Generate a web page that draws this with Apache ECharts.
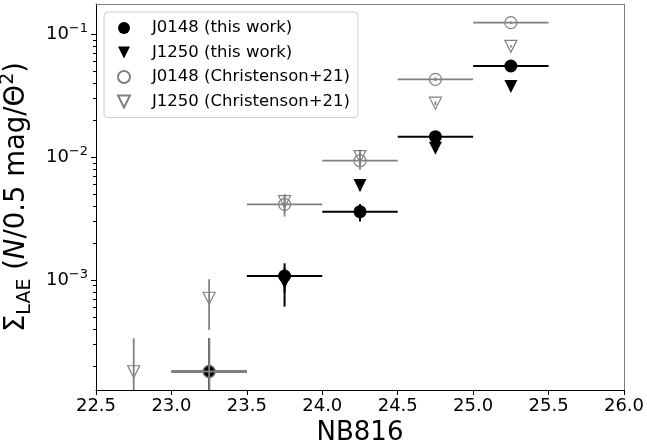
<!DOCTYPE html>
<html>
<head>
<meta charset="utf-8">
<script src="https://cdn.jsdelivr.net/npm/echarts@6/dist/echarts.min.js"></script>
<style>html,body{margin:0;padding:0;background:#fff}#c{width:647px;height:445px}</style>
</head>
<body>
<div id="c"></div>
<script>
// ---- data ----
const xTickValues = [22.5, 23.0, 23.5, 24.0, 24.5, 25.0, 25.5, 26.0];
const yMajorTicks = [1e-3, 1e-2, 1e-1];
const yMinorTicks = [2e-4,3e-4,4e-4,5e-4,6e-4,7e-4,8e-4,9e-4,
                     2e-3,3e-3,4e-3,5e-3,6e-3,7e-3,8e-3,9e-3,
                     2e-2,3e-2,4e-2,5e-2,6e-2,7e-2,8e-2,9e-2];
const seriesNames = ['J0148 (this work)', 'J1250 (this work)', 'J0148 (Christenson+21)', 'J1250 (Christenson+21)'];
const binHalfWidth = 0.25;

// J0148 (this work)
const j0148_x   = [23.25, 23.75, 24.25, 24.75, 25.25];
const j0148_y   = [1.80e-4, 1.078e-3, 3.60e-3, 1.467e-2, 5.52e-2];
const j0148_ylo = [0, 7.9e-4, 2.99e-3, 1.39e-2, 5.35e-2];
const j0148_yhi = [3.35e-4, 1.367e-3, 4.16e-3, 1.55e-2, 5.70e-2];

// J1250 (this work)
const j1250_x   = [23.75, 24.25, 24.75, 25.25];
const j1250_y   = [9.6e-4, 5.88e-3, 1.18e-2, 3.75e-2];
const j1250_ylo = [6.07e-4, 5.3e-3, 1.12e-2, 3.62e-2];
const j1250_yhi = [1.25e-3, 6.5e-3, 1.24e-2, 3.88e-2];

// J0148 (Christenson+21)
const c0148_x   = [23.25, 23.75, 24.25, 24.75, 25.25];
const c0148_y   = [1.80e-4, 4.13e-3, 9.35e-3, 4.30e-2, 1.243e-1];
const c0148_ylo = [0, 3.28e-3, 7.91e-3, 4.15e-2, 1.215e-1];
const c0148_yhi = [3.35e-4, 4.77e-3, 1.143e-2, 4.45e-2, 1.27e-1];

// J1250 (Christenson+21)
const c1250_x   = [22.75, 23.25, 23.75, 24.25, 24.75, 25.25];
const c1250_y   = [1.79e-4, 7.10e-4, 4.34e-3, 1.009e-2, 2.75e-2, 7.98e-2];
const c1250_ylo = [0, 3.92e-4, 3.6e-3, 8.6e-3, 2.65e-2, 7.8e-2];
const c1250_yhi = [3.35e-4, 1.014e-3, 5.0e-3, 1.15e-2, 2.85e-2, 8.15e-2];

// ---- build ----
const BLACK = '#000000', GRAY = '#808080';
const FONT = 'DejaVu Sans';
const TRI_DOWN = 'path://M0,0L2,0L1,2Z';

function errData(xs, ys, ylo, yhi, withX) {
  return xs.map((x, i) => [x, ys[i], withX ? x - binHalfWidth : NaN, withX ? x + binHalfWidth : NaN, ylo[i], yhi[i]]);
}
function errRender(color, lw) {
  return function (params, api) {
    const x = api.value(0), y = api.value(1);
    const xl = api.value(2), xh = api.value(3), yl = api.value(4), yh = api.value(5);
    const cs = params.coordSys;
    const kids = [];
    const style = { stroke: color, lineWidth: lw };
    if (isFinite(xl) && isFinite(xh)) {
      const a = api.coord([xl, y]), b = api.coord([xh, y]);
      kids.push({ type: 'line', shape: { x1: a[0], y1: a[1], x2: b[0], y2: b[1] }, style });
    }
    const c = api.coord([x, y]);
    const top = api.coord([x, yh]);
    let bottomY = (yl > 0) ? api.coord([x, yl])[1] : cs.y + cs.height;
    bottomY = Math.min(bottomY, cs.y + cs.height);
    kids.push({ type: 'line', shape: { x1: c[0], y1: Math.max(top[1], cs.y), x2: c[0], y2: bottomY }, style });
    return { type: 'group', children: kids };
  };
}
function scatterData(xs, ys) { return xs.map((x, i) => [x, ys[i]]); }

const supMinus = '\u2212';
function yLabel(v) {
  const e = Math.round(Math.log10(v));
  return '{b|10}{s|' + (e < 0 ? supMinus + (-e) : e) + '}';
}

const chart = echarts.init(document.getElementById('c'), null, { renderer: 'canvas' });
chart.setOption({
  animation: false,
  backgroundColor: '#ffffff',
  textStyle: { fontFamily: FONT },
  grid: { left: 96, right: 23, top: 4, bottom: 55, containLabel: false, outerBoundsMode: 'none' },
  legend: {
    orient: 'vertical',
    left: 104, top: 12,
    data: seriesNames,
    itemWidth: 12, itemHeight: 12,
    itemGap: 6.5,
    padding: [7, 8, 7, 13],
    backgroundColor: 'rgba(255,255,255,0.8)',
    borderColor: '#cccccc', borderWidth: 1, borderRadius: 4,
    textStyle: { fontFamily: FONT, fontSize: 16.5, color: '#000', lineHeight: 18, padding: [0, 0, 0, 17] },
    selectedMode: false
  },
  xAxis: [{
    type: 'value', min: 22.5, max: 26.0, interval: 0.5,
    name: 'NB816', nameLocation: 'middle', nameGap: 26,
    nameTextStyle: { fontFamily: FONT, fontSize: 26, color: '#000' },
    axisLine: { show: true, onZero: false, lineStyle: { color: '#000', width: 1 } },
    axisTick: { show: true, inside: false, length: 5, lineStyle: { color: '#000' } },
    axisLabel: { show: true, margin: 7, fontFamily: FONT, fontSize: 18, color: '#000',
                 formatter: v => v.toFixed(1), customValues: xTickValues },
    splitLine: { show: false }
  }, {
    type: 'value', min: 22.5, max: 26.0, position: 'top',
    axisLine: { show: true, onZero: false, lineStyle: { color: GRAY, width: 1 } },
    axisTick: { show: false }, axisLabel: { show: false }, splitLine: { show: false }
  }],
  yAxis: [{
    type: 'log', logBase: 10, min: 1.272e-4, max: 0.1764,
    name: '{s|\u03A3}{sub|LAE}{s| (}{i|N}{s|/0.5 mag/\u0398}{sup|2}{s|)}',
    nameLocation: 'middle', nameGap: 52, nameRotate: 90,
    nameTextStyle: {
      fontFamily: FONT, color: '#000',
      rich: {
        s: { fontFamily: FONT, fontSize: 27.5, lineHeight: 36, verticalAlign: 'middle', color: '#000' },
        i: { fontFamily: FONT, fontSize: 27.5, fontStyle: 'italic', lineHeight: 36, verticalAlign: 'middle', color: '#000' },
        sub: { fontFamily: FONT, fontSize: 19, lineHeight: 19, verticalAlign: 'bottom', color: '#000' },
        sup: { fontFamily: FONT, fontSize: 19, lineHeight: 19, verticalAlign: 'top', color: '#000' }
      }
    },
    axisLine: { show: true, onZero: false, lineStyle: { color: '#000', width: 1 } },
    axisTick: { show: true, inside: false, length: 5, lineStyle: { color: '#000' }, customValues: yMajorTicks },
    axisLabel: {
      show: true, margin: 8, customValues: yMajorTicks, formatter: yLabel,
      rich: {
        b: { fontFamily: FONT, fontSize: 18, lineHeight: 24, verticalAlign: 'middle', color: '#000' },
        s: { fontFamily: FONT, fontSize: 13, lineHeight: 13, verticalAlign: 'top', color: '#000' }
      }
    },
    splitLine: { show: false }
  }, {
    type: 'log', logBase: 10, min: 1.272e-4, max: 0.1764, position: 'right',
    axisLine: { show: true, onZero: false, lineStyle: { color: GRAY, width: 1 } },
    axisTick: { show: false }, axisLabel: { show: false }, splitLine: { show: false }
  }, {
    type: 'log', logBase: 10, min: 1.272e-4, max: 0.1764, position: 'left',
    axisLine: { show: false },
    axisTick: { show: true, inside: false, length: 3, lineStyle: { color: '#000' }, customValues: yMinorTicks },
    axisLabel: { show: false }, splitLine: { show: false }
  }],
  series: [
    { type: 'custom', name: 'err0148', z: 2, xAxisIndex: 0, yAxisIndex: 0,
      renderItem: errRender(BLACK, 2), encode: { x: [0], y: [1] },
      data: errData(j0148_x, j0148_y, j0148_ylo, j0148_yhi, true) },
    { type: 'scatter', name: seriesNames[0], z: 3, symbol: 'circle', symbolSize: 13,
      itemStyle: { color: BLACK, opacity: 1 }, data: scatterData(j0148_x, j0148_y) },
    { type: 'custom', name: 'err1250', z: 4,
      renderItem: errRender(BLACK, 2), encode: { x: [0], y: [1] },
      data: errData(j1250_x, j1250_y, j1250_ylo, j1250_yhi, false) },
    { type: 'scatter', name: seriesNames[1], z: 5, symbol: TRI_DOWN, symbolSize: 13,
      itemStyle: { color: BLACK, opacity: 1 }, data: scatterData(j1250_x, j1250_y) },
    { type: 'custom', name: 'errC0148', z: 6,
      renderItem: errRender(GRAY, 1.8), encode: { x: [0], y: [1] },
      data: errData(c0148_x, c0148_y, c0148_ylo, c0148_yhi, true) },
    { type: 'scatter', name: seriesNames[2], z: 7, symbol: 'circle', symbolSize: 12,
      itemStyle: { color: 'rgba(255,255,255,0)', borderColor: GRAY, borderWidth: 1.2, opacity: 1 },
      data: scatterData(c0148_x, c0148_y) },
    { type: 'custom', name: 'errC1250', z: 8,
      renderItem: errRender(GRAY, 1.8), encode: { x: [0], y: [1] },
      data: errData(c1250_x, c1250_y, c1250_ylo, c1250_yhi, false) },
    { type: 'scatter', name: seriesNames[3], z: 9, symbol: TRI_DOWN, symbolSize: 12,
      itemStyle: { color: 'rgba(255,255,255,0)', borderColor: GRAY, borderWidth: 1.2, opacity: 1 },
      data: scatterData(c1250_x, c1250_y) }
  ]
});
</script>
</body>
</html>
